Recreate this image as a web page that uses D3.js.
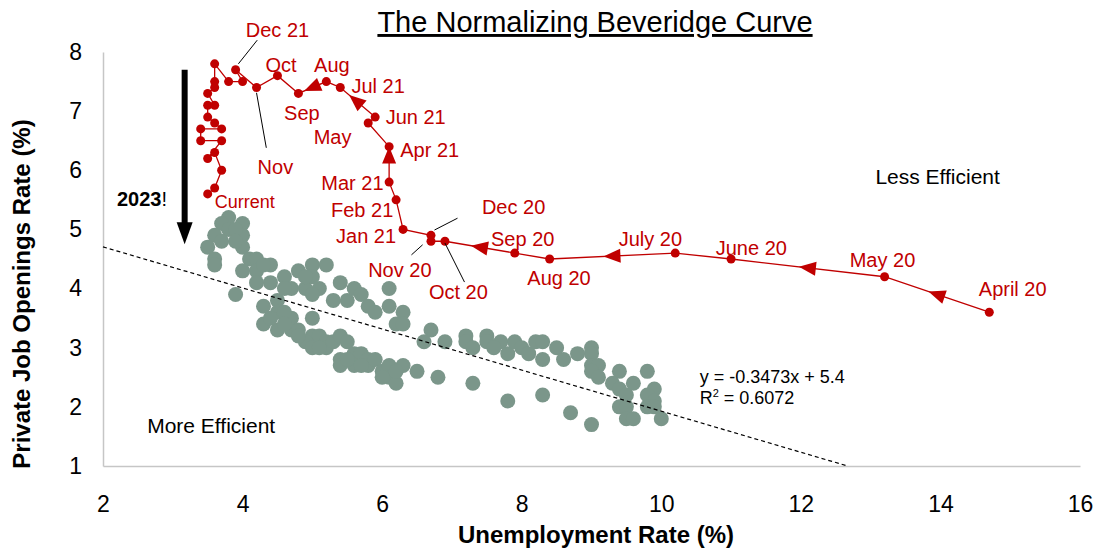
<!DOCTYPE html>
<html>
<head>
<meta charset="utf-8">
<script src="https://cdn.jsdelivr.net/npm/d3@7"></script>
<style>
  body { margin: 0; background: #fff; }
  text { font-family: "Liberation Sans", Arial, sans-serif; }
</style>
</head>
<body>
<div id="chart"></div>
<script>
// tick labels
const xTickValues = [2, 4, 6, 8, 10, 12, 14, 16]
const yTickValues = [1, 2, 3, 4, 5, 6, 7, 8]

// pre-pandemic history (unemployment %, private job openings %)
const grayUnemp = [3.8, 4.0, 3.7, 3.8, 3.6, 3.5, 3.6, 3.6, 4.0, 4.0, 4.1, 4.2, 4.4, 4.2, 4.4, 4.2, 3.9, 4.6, 4.8, 5.0,
  5.2, 4.7, 4.9, 5.1, 5.0, 5.4, 5.6, 5.7, 5.3, 5.5, 5.8, 5.9, 6.1, 6.1, 6.3, 6.2, 6.7, 6.6, 4.3, 4.5,
  4.5, 4.3, 4.5, 4.7, 4.7, 4.6, 4.8, 5.0, 5.0, 4.9, 5.1, 5.2, 5.0, 5.2, 5.3, 5.4, 5.5, 5.4, 5.4, 5.6,
  5.7, 5.6, 5.8, 5.8, 5.9, 6.0, 6.1, 6.1, 6.2, 6.0, 6.3, 6.5, 6.8, 6.3, 6.9, 7.2, 7.2, 7.3, 7.5, 7.5,
  7.7, 7.6, 7.8, 7.9, 8.0, 8.1, 8.2, 8.3, 8.3, 8.5, 8.6, 8.8, 9.0, 9.0, 9.0, 9.1, 9.0, 9.1, 9.4, 9.3,
  9.4, 9.6, 9.5, 9.4, 9.5, 9.5, 9.6, 9.8, 9.9, 9.8, 9.9, 9.8, 9.9, 10.0, 7.3, 7.8, 8.3, 8.7, 9.0, 3.9,
  3.7, 3.9, 4.3, 4.0, 4.6, 4.9, 5.0, 4.4, 4.6, 4.8, 5.1, 5.5, 5.7, 6.2]
const grayOpen = [5.2, 5.1, 5.1, 5.0, 4.9, 4.7, 4.5, 4.4, 4.9, 4.7, 4.5, 4.5, 4.4, 4.3, 4.1, 4.1, 3.9, 4.2, 4.3, 4.4,
  4.4, 4.0, 4.0, 4.0, 4.2, 4.1, 4.0, 3.9, 3.8, 3.8, 3.7, 3.6, 4.0, 3.7, 3.6, 3.4, 3.3, 3.1, 3.7, 3.8,
  3.6, 3.4, 3.3, 3.5, 3.3, 3.6, 3.3, 3.5, 3.2, 3.1, 3.2, 3.1, 3.0, 3.0, 3.1, 3.2, 3.1, 2.8, 2.7, 2.9,
  2.9, 2.7, 2.8, 2.7, 2.8, 2.6, 2.7, 2.5, 2.4, 2.5, 2.7, 2.6, 2.5, 3.4, 3.1, 3.2, 3.1, 3.0, 3.2, 3.1,
  3.1, 3.0, 2.9, 3.1, 3.0, 2.9, 3.1, 3.1, 2.8, 3.0, 2.8, 2.9, 3.0, 2.9, 2.7, 2.7, 2.6, 2.5, 2.6, 2.4,
  2.3, 2.4, 2.2, 2.0, 2.0, 1.8, 1.8, 2.6, 2.3, 2.2, 2.1, 2.0, 2.0, 1.8, 2.4, 2.1, 2.2, 1.9, 1.7, 5.0,
  4.8, 4.8, 4.4, 4.3, 4.0, 4.2, 3.9, 3.5, 3.4, 3.2, 3.0, 2.8, 2.7, 2.6]

// pandemic path, April 2020 to current
const redMonths = ['Apr 20', 'May 20', 'Jun 20', 'Jul 20', 'Aug 20', 'Sep 20', 'Oct 20', 'Nov 20', 'Dec 20', 'Jan 21',
  'Feb 21', 'Mar 21', 'Apr 21', 'May 21', 'Jun 21', 'Jul 21', 'Aug 21', 'Sep 21', 'Oct 21', 'Nov 21',
  'Dec 21', 'Jan 22', 'Feb 22', 'Mar 22', 'Apr 22', 'May 22', 'Jun 22', 'Jul 22', 'Aug 22', 'Sep 22',
  'Oct 22', 'Nov 22', 'Dec 22', 'Jan 23', 'Feb 23', 'Mar 23', 'Apr 23', 'May 23', 'Jun 23', 'Jul 23']
const redUnemp = [14.7, 13.2, 11.0, 10.2, 8.4, 7.9, 6.9, 6.7, 6.7, 6.3,
  6.2, 6.1, 6.1, 5.8, 5.9, 5.4, 5.2, 4.8, 4.5, 4.2,
  3.9, 4.0, 3.8, 3.6, 3.6, 3.6, 3.5, 3.6, 3.5, 3.5,
  3.6, 3.7, 3.4, 3.4, 3.7, 3.5, 3.6, 3.7, 3.6, 3.5]
const redOpen = [3.6, 4.2, 4.5, 4.6, 4.5, 4.6, 4.8, 4.8, 4.9, 5.0,
  5.5, 5.8, 6.4, 6.8, 6.9, 7.4, 7.5, 7.3, 7.6, 7.4,
  7.7, 7.5, 7.5, 7.8, 7.5, 7.4, 7.3, 7.1, 7.1, 6.9,
  6.8, 6.7, 6.7, 6.5, 6.5, 6.2, 6.3, 6.0, 5.7, 5.6]

// direction arrows: segment start index and position along it
const arrowSegments = [0, 1, 3, 5, 11, 14, 16]
const arrowFractions = [0.5, 0.5, 0.5, 0.5, 0.75, 0.55, 0.5]

const trendSlope = -0.3473
const trendIntercept = 5.4

const pointLabels = [
  ['Dec 21', 4.5, 8.25, 'middle'], ['Oct', 4.55, 7.66, 'middle'], ['Aug', 5.28, 7.66, 'middle'],
  ['Jul 21', 5.56, 7.3, 'start'], ['Sep', 4.85, 6.85, 'middle'], ['Jun 21', 6.05, 6.78, 'start'],
  ['May', 5.29, 6.44, 'middle'], ['Apr 21', 6.26, 6.22, 'start'], ['Nov', 4.47, 5.94, 'middle'],
  ['Mar 21', 6.02, 5.66, 'end'], ['Feb 21', 6.16, 5.21, 'end'], ['Jan 21', 6.2, 4.77, 'end'],
  ['Dec 20', 7.43, 5.26, 'start'], ['Sep 20', 7.56, 4.72, 'start'], ['July 20', 9.39, 4.72, 'start'],
  ['June 20', 10.78, 4.57, 'start'], ['May 20', 12.7, 4.36, 'start'], ['April 20', 14.55, 3.87, 'start'],
  ['Aug 20', 8.08, 4.06, 'start'], ['Oct 20', 6.67, 3.82, 'start'], ['Nov 20', 5.8, 4.2, 'start']
]
const leaderLines = [
  [4.21, 8.2, 3.94, 7.8], [4.2, 7.31, 4.34, 6.38], [7.08, 5.19, 6.75, 4.99],
  [6.58, 4.74, 6.42, 4.57], [6.9, 4.77, 7.18, 4.11]
]

let width = 1106
let height = 550

let svg = d3.select('#chart')
  .append('svg')
  .attr('width', width)
  .attr('height', height)

svg.append('rect').attr('width', width).attr('height', height).attr('fill', '#fff')

let xScale = d3.scaleLinear().domain([2, 16]).range([103, 1080])
let yScale = d3.scaleLinear().domain([1, 8]).range([466, 52])

// axes
let xAxis = d3.axisBottom(xScale).tickValues(xTickValues).tickSize(0).tickPadding(30)
  .tickFormat(d3.format('d'))
let gx = svg.append('g')
  .attr('transform', `translate(0, ${yScale(1)})`)
  .call(xAxis)
gx.select('.domain').attr('stroke', '#c6c6c6').attr('stroke-width', 1.5)
gx.selectAll('text').attr('font-size', 23).attr('fill', '#000')
  .style('font-family', '"Liberation Sans", Arial, sans-serif')

let yAxis = d3.axisLeft(yScale).tickValues(yTickValues).tickSize(0).tickPadding(21)
  .tickFormat(d3.format('d'))
let gy = svg.append('g')
  .attr('transform', `translate(${xScale(2)}, 0)`)
  .call(yAxis)
gy.select('.domain').attr('stroke', '#c6c6c6').attr('stroke-width', 1.5)
gy.selectAll('text').attr('font-size', 23).attr('fill', '#000')
  .style('font-family', '"Liberation Sans", Arial, sans-serif')

// title and axis titles
svg.append('text')
  .attr('x', 595).attr('y', 32)
  .attr('text-anchor', 'middle')
  .attr('font-size', 29)
  .style('text-decoration', 'underline')
  .text('The Normalizing Beveridge Curve')

svg.append('text')
  .attr('x', 596).attr('y', 543)
  .attr('text-anchor', 'middle')
  .attr('font-size', 24)
  .attr('font-weight', 'bold')
  .text('Unemployment Rate (%)')

svg.append('text')
  .attr('transform', 'translate(30, 294) rotate(-90)')
  .attr('text-anchor', 'middle')
  .attr('font-size', 24)
  .attr('font-weight', 'bold')
  .text('Private Job Openings Rate (%)')

// history scatter
let grayPoints = grayUnemp.map((u, i) => ({ u: u, j: grayOpen[i] }))
svg.append('g')
  .selectAll('circle')
  .data(grayPoints)
  .enter()
  .append('circle')
  .attr('cx', d => xScale(d.u))
  .attr('cy', d => yScale(d.j))
  .attr('r', 7.5)
  .attr('fill', '#7b968a')

// trend line, clipped at the x axis
let xEnd = (1 - trendIntercept) / trendSlope
svg.append('line')
  .attr('x1', xScale(2)).attr('y1', yScale(trendSlope * 2 + trendIntercept))
  .attr('x2', xScale(xEnd)).attr('y2', yScale(1))
  .attr('stroke', '#000')
  .attr('stroke-width', 1.2)
  .attr('stroke-dasharray', '4,3')

// pandemic path
let redPoints = redMonths.map((m, i) => ({ m: m, u: redUnemp[i], j: redOpen[i] }))
let line = d3.line().x(d => xScale(d.u)).y(d => yScale(d.j))
svg.append('path')
  .datum(redPoints)
  .attr('d', line)
  .attr('fill', 'none')
  .attr('stroke', '#c00000')
  .attr('stroke-width', 1.3)

svg.append('g')
  .selectAll('circle')
  .data(redPoints)
  .enter()
  .append('circle')
  .attr('cx', d => xScale(d.u))
  .attr('cy', d => yScale(d.j))
  .attr('r', 4.5)
  .attr('fill', '#c00000')

svg.append('g')
  .selectAll('path')
  .data(arrowSegments)
  .enter()
  .append('path')
  .attr('d', 'M9,0 L-8,-7 L-8,7 Z')
  .attr('fill', '#c00000')
  .attr('transform', (s, i) => {
    let a = redPoints[s]
    let b = redPoints[s + 1]
    let x0 = xScale(a.u), y0 = yScale(a.j)
    let x1 = xScale(b.u), y1 = yScale(b.j)
    let f = arrowFractions[i]
    let angle = Math.atan2(y1 - y0, x1 - x0) * 180 / Math.PI
    return `translate(${x0 + (x1 - x0) * f}, ${y0 + (y1 - y0) * f}) rotate(${angle})`
  })

// leader lines and month labels
svg.append('g')
  .selectAll('line')
  .data(leaderLines)
  .enter()
  .append('line')
  .attr('x1', d => xScale(d[0])).attr('y1', d => yScale(d[1]))
  .attr('x2', d => xScale(d[2])).attr('y2', d => yScale(d[3]))
  .attr('stroke', '#000')
  .attr('stroke-width', 1)

svg.append('g')
  .selectAll('text')
  .data(pointLabels)
  .enter()
  .append('text')
  .attr('x', d => xScale(d[1]))
  .attr('y', d => yScale(d[2]))
  .attr('text-anchor', d => d[3])
  .attr('font-size', 20)
  .attr('fill', '#c00000')
  .text(d => d[0])

svg.append('text')
  .attr('x', xScale(3.6)).attr('y', yScale(5.36))
  .attr('font-size', 18)
  .attr('fill', '#c00000')
  .text('Current')

// the big black arrow and notes
let ax = xScale(3.17)
let aTop = yScale(7.7)
let aTip = yScale(4.75)
svg.append('line')
  .attr('x1', ax).attr('y1', aTop)
  .attr('x2', ax).attr('y2', aTip - 20)
  .attr('stroke', '#000')
  .attr('stroke-width', 6)
svg.append('path')
  .attr('d', `M${ax - 8},${aTip - 22} L${ax + 8},${aTip - 22} L${ax},${aTip} Z`)
  .attr('fill', '#000')

let note = svg.append('text')
  .attr('x', xScale(2.2)).attr('y', yScale(5.4))
  .attr('font-size', 20)
note.append('tspan').attr('font-weight', 'bold').text('2023')
note.append('tspan').text('!')

svg.append('text')
  .attr('x', xScale(13.96)).attr('y', yScale(5.77))
  .attr('text-anchor', 'middle')
  .attr('font-size', 21)
  .text('Less Efficient')

svg.append('text')
  .attr('x', xScale(3.55)).attr('y', yScale(1.55))
  .attr('text-anchor', 'middle')
  .attr('font-size', 21)
  .text('More Efficient')

svg.append('text')
  .attr('x', xScale(10.55)).attr('y', yScale(2.4))
  .attr('font-size', 18)
  .text(`y = ${trendSlope}x + ${trendIntercept}`)

let r2 = svg.append('text')
  .attr('x', xScale(10.55)).attr('y', yScale(2.04))
  .attr('font-size', 18)
r2.append('tspan').text('R')
r2.append('tspan').attr('font-size', 11).attr('dy', -7).text('2')
r2.append('tspan').attr('dy', 7).text(' = 0.6072')
</script>
</body>
</html>
